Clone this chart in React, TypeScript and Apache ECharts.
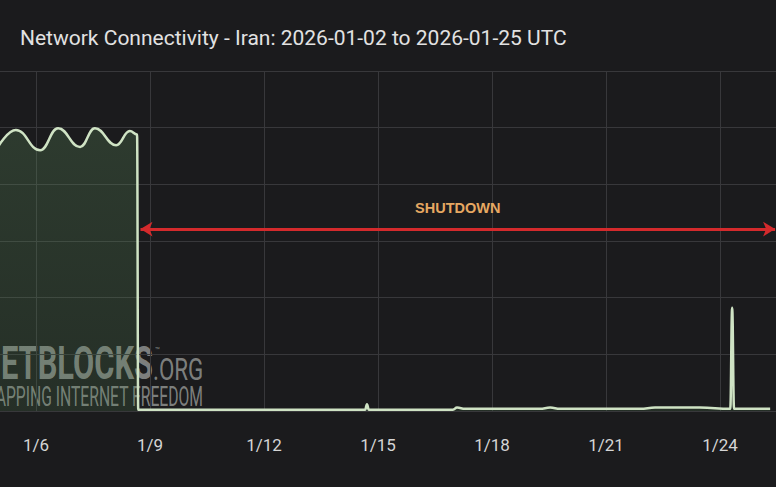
import React, { useEffect, useRef } from 'react';
import * as echarts from 'echarts';

// ---- data ----
const titleText = 'Network Connectivity - Iran: 2026-01-02 to 2026-01-25 UTC';
const tickDays = [6, 9, 12, 15, 18, 21, 24];
// day of January 2026 (fractional, UTC)
const days = [
  5.0, 5.47, 6.11, 6.58, 7.16, 7.55, 8.11, 8.47, 8.66, 8.69, 8.8,
  14.66, 14.71, 14.76, 16.97, 17.08, 17.29, 19.26, 19.53, 19.79,
  21.9, 22.29, 23.47, 24.27, 24.32, 24.37, 25.32,
];
const connectivity = [
  4.66, 4.96, 4.6, 4.99, 4.66, 4.99, 4.69, 4.94, 4.88, 0.02, 0.02,
  0.02, 0.12, 0.02, 0.02, 0.06, 0.04, 0.04, 0.06, 0.04,
  0.04, 0.06, 0.06, 0.04, 1.82, 0.04, 0.04,
];
const shutdownStart = 8.75;
const shutdownEnd = 25.45;
const shutdownLevel = 3.21;
const shutdownLabel = 'SHUTDOWN';
const watermarkMain = 'NETBLOCKS';
const watermarkOrg = '.ORG';
const watermarkTag = 'MAPPING INTERNET FREEDOM';

const BG = '#1b1b1d';
const OFFSET = 100;

export default function App() {
  const ref = useRef<HTMLDivElement>(null);
  useEffect(() => {
    document.body.style.margin = '0';
    const chart = echarts.init(ref.current!, null, { renderer: 'svg' });
    const data = days.map((d, i) => [d, connectivity[i]]);
    const wm = 'rgba(210,215,210,0.55)';
    chart.setOption({
      animation: false,
      backgroundColor: BG,
      title: {
        text: titleText,
        left: OFFSET + 20,
        top: 27,
        padding: 0,
        textStyle: { color: '#e2e2e2', fontSize: 21, fontWeight: 'normal', fontFamily: 'Roboto' },
      },
      grid: { left: 22, right: 23, top: 71, bottom: 76 },
      xAxis: {
        type: 'value',
        min: 3,
        max: 25.5,
        interval: 3,
        axisLine: { show: false },
        axisTick: { show: false },
        axisLabel: {
          color: '#d5d5d5',
          fontSize: 17,
          fontFamily: 'Roboto',
          margin: 25,
          formatter: (v: number) => (tickDays.includes(v) ? `1/${v}` : ''),
        },
        splitLine: { show: true, lineStyle: { color: '#38383b', width: 1 } },
      },
      yAxis: {
        type: 'value',
        min: 0,
        max: 6,
        interval: 1,
        axisLine: { show: false },
        axisTick: { show: false },
        axisLabel: { show: false },
        splitLine: { show: true, lineStyle: { color: '#38383b', width: 1 } },
      },
      graphic: [
        {
          type: 'text',
          x: OFFSET + 153,
          y: 364,
          scaleX: 0.67,
          style: {
            text: watermarkMain,
            fill: wm,
            font: 'bold 46px Roboto',
            align: 'right',
            verticalAlign: 'middle',
          },
        },
        {
          type: 'text',
          x: OFFSET + 153,
          y: 369,
          scaleX: 0.7,
          style: {
            text: watermarkOrg,
            fill: wm,
            font: '32px Roboto',
            align: 'left',
            verticalAlign: 'middle',
          },
        },
        {
          type: 'text',
          x: OFFSET + 155,
          y: 350,
          style: { text: '™', fill: wm, font: '8px Roboto', align: 'left', verticalAlign: 'middle' },
        },
        {
          type: 'text',
          x: OFFSET + 203,
          y: 397,
          scaleX: 0.56,
          style: {
            text: watermarkTag,
            fill: wm,
            font: '28px Roboto',
            align: 'right',
            verticalAlign: 'middle',
          },
        },
      ],
      series: [
        {
          type: 'line',
          data,
          showSymbol: false,
          smooth: 0.45,
          smoothMonotone: 'x',
          lineStyle: { color: '#cfe3c4', width: 2.5 },
          areaStyle: {
            color: new echarts.graphic.LinearGradient(0, 0, 0, 1, [
              { offset: 0, color: 'rgba(95,145,95,0.38)' },
              { offset: 1, color: 'rgba(80,130,80,0.28)' },
            ]),
          },
          markLine: {
            silent: true,
            symbol: ['arrow', 'arrow'],
            symbolSize: [11, 12],
            lineStyle: { color: '#d42a2c', width: 3, type: 'solid' },
            label: {
              show: true,
              position: 'middle',
              formatter: shutdownLabel,
              color: '#e6a862',
              fontSize: 14.5,
              fontWeight: 'bold',
              fontFamily: 'Liberation Sans',
              distance: 14,
            },
            data: [[{ coord: [shutdownStart, shutdownLevel] }, { coord: [shutdownEnd, shutdownLevel] }]],
          },
        },
      ],
    });
    return () => chart.dispose();
  }, []);
  return (
    <div
      style={{
        position: 'fixed',
        left: 0,
        top: 0,
        width: 776,
        height: 487,
        overflow: 'hidden',
        background: BG,
      }}
    >
      <div
        ref={ref}
        style={{ position: 'absolute', left: -OFFSET, top: 0, width: 776 + OFFSET + 24, height: 487 }}
      />
    </div>
  );
}
